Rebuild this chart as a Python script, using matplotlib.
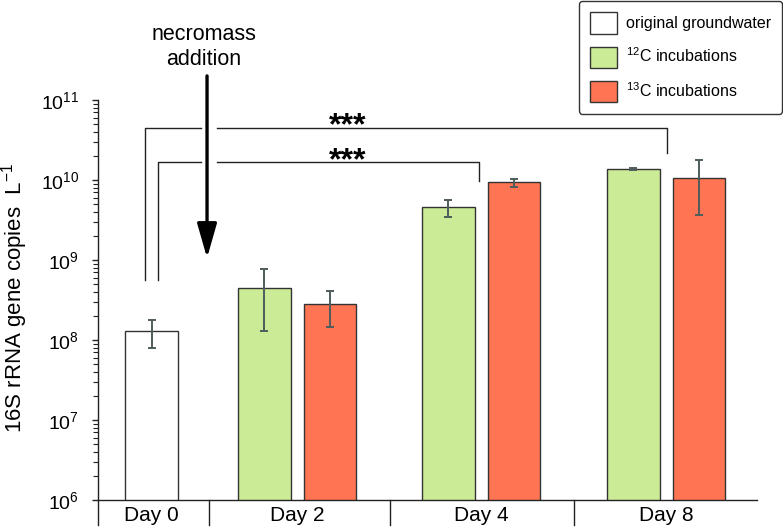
import numpy as np
import matplotlib
matplotlib.use("Agg")
import matplotlib.pyplot as plt
from matplotlib.patches import Patch
from matplotlib.transforms import blended_transform_factory

plt.rcParams['font.family'] = ['Liberation Sans', 'DejaVu Sans']
plt.rcParams['mathtext.fontset'] = 'custom'
plt.rcParams['mathtext.rm'] = 'Liberation Sans'
plt.rcParams['mathtext.it'] = 'Liberation Sans:italic'
plt.rcParams['mathtext.bf'] = 'Liberation Sans:bold'

# --- data ---
days = ["Day 0", "Day 2", "Day 4", "Day 8"]

gw_mean = [1.30e8]
gw_lo = [8.0e7]
gw_hi = [1.76e8]

c12_mean = [4.5e8, 4.56e9, 1.37e10]
c12_lo = [1.3e8, 3.45e9, 1.34e10]
c12_hi = [7.7e8, 5.67e9, 1.42e10]

c13_mean = [2.82e8, 9.36e9, 1.07e10]
c13_lo = [1.44e8, 8.25e9, 3.68e9]
c13_hi = [4.13e8, 1.03e10, 1.78e10]

# --- layout ---
centers = np.array([0.0, 0.789, 1.787, 2.790])
separators = [-0.29, 0.312, 1.293, 2.290]
width = 0.286
off = 0.178

green = '#cbeb96'
red = '#ff7553'
edge = '#333333'
errc = '#4f5c5c'

fig = plt.figure(figsize=(7.83, 5.31), dpi=100)
ax = fig.add_axes([98 / 783, 31 / 531, 659 / 783, 400 / 531])
ax.set_yscale('log')

err_kw = dict(ecolor=errc, elinewidth=1.4, capsize=2.8, capthick=1.4)

def yerr(mean, lo, hi):
    mean, lo, hi = map(np.array, (mean, lo, hi))
    return [mean - lo, hi - mean]

ax.bar(centers[:1], gw_mean, width, color='white', edgecolor=edge, linewidth=1.0,
       yerr=yerr(gw_mean, gw_lo, gw_hi), error_kw=err_kw, zorder=2)
ax.bar(centers[1:] - off, c12_mean, width, color=green, edgecolor=edge, linewidth=1.0,
       yerr=yerr(c12_mean, c12_lo, c12_hi), error_kw=err_kw, zorder=2)
ax.bar(centers[1:] + off, c13_mean, width, color=red, edgecolor=edge, linewidth=1.0,
       yerr=yerr(c13_mean, c13_lo, c13_hi), error_kw=err_kw, zorder=2)

ax.set_xlim(-0.29, 3.282)
ax.set_ylim(1e6, 1e11)

ax.spines['top'].set_visible(False)
ax.spines['right'].set_visible(False)
for s in ('left', 'bottom'):
    ax.spines[s].set_linewidth(1.0)
    ax.spines[s].set_color('#222222')

ax.set_xticks(centers)
ax.set_xticklabels(days, fontsize=15)
ax.tick_params(axis='x', length=0, pad=4.5)
ax.tick_params(axis='y', which='major', direction='out', length=4.5, width=1.0,
               labelsize=14, pad=9, color='#222222')
ax.tick_params(axis='y', which='minor', direction='out', length=3.5, width=0.8,
               color='#222222')

# category separators below the axis
trans = blended_transform_factory(ax.transData, ax.transAxes)
for sx in separators:
    ax.plot([sx, sx], [0, -0.0625], color='#222222', lw=1.0, transform=trans,
            clip_on=False)

fig.text(15 / 783, 1 - 298 / 531, "16S rRNA gene copies  L$^{-1}$", rotation=90,
         ha='center', va='center', fontsize=16)

# significance brackets (gap around the arrow)
gap_l, gap_r = 0.268, 0.353
bk = dict(color='#222222', lw=1.0, clip_on=False)
ax.plot([-0.035, -0.035, gap_l], [5.6e8, 4.43e10, 4.43e10], **bk)
ax.plot([gap_r, 2.792, 2.792], [4.43e10, 4.43e10, 2.16e10], **bk)
ax.plot([0.034, 0.034, gap_l], [5.6e8, 1.69e10, 1.69e10], **bk)
ax.plot([gap_r, 1.774, 1.774], [1.69e10, 1.69e10, 9.7e9], **bk)
ax.text(1.065, 3.75e10, "***", ha='center', va='baseline', fontsize=23,
        fontweight='bold')
ax.text(1.065, 1.37e10, "***", ha='center', va='baseline', fontsize=23,
        fontweight='bold')

# necromass addition arrow
ax.annotate('', xy=(0.301, 1.06e9), xytext=(0.301, 2e11),
            arrowprops=dict(arrowstyle='-|>,head_length=2.1,head_width=0.6',
                            lw=2.4, color='black', shrinkA=0, shrinkB=0,
                            mutation_scale=10),
            annotation_clip=False)
ax.text(0.285, 1.1325, "necromass\naddition", transform=trans, ha='center',
        va='center', fontsize=15.5, linespacing=1.28)

handles = [Patch(facecolor='white', edgecolor=edge, linewidth=1.0),
           Patch(facecolor=green, edgecolor=edge, linewidth=1.0),
           Patch(facecolor=red, edgecolor=edge, linewidth=1.0)]
labels = ["original groundwater", "$^{12}$C incubations", "$^{13}$C incubations"]
leg = fig.legend(handles, labels, loc='upper right',
                 bbox_to_anchor=(782 / 783, 1 - 1 / 531), fontsize=11.5,
                 handlelength=1.7, handleheight=1.7, handletextpad=0.55,
                 labelspacing=0.8, borderpad=0.7, borderaxespad=0,
                 fancybox=True, framealpha=1, edgecolor='#333333')
leg.get_frame().set_linewidth(1.0)

fig.savefig("out.png", dpi=100)
